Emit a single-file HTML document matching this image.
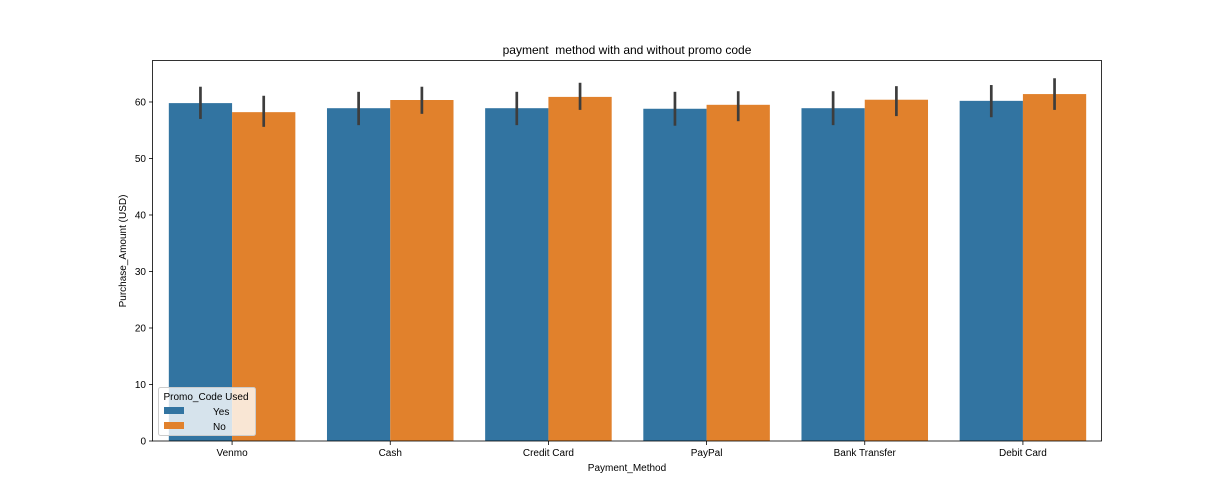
<!DOCTYPE html>
<html><head><meta charset="utf-8"><style>
html,body{margin:0;padding:0;background:#fff;}
svg{display:block;font-family:"Liberation Sans","DejaVu Sans",sans-serif;}
</style></head><body>
<svg id="chart" width="1224" height="504">
<text x="627" y="54" text-anchor="middle" font-size="12" style="white-space:pre">payment  method with and without promo code</text>
<g id="bars"></g>
<g id="axes"></g>
<rect x="152.5" y="60.5" width="949" height="380.5" fill="none" stroke="#000" stroke-width="0.8"/>
<text x="627" y="471" text-anchor="middle" font-size="10">Payment_Method</text>
<text transform="translate(126,251) rotate(-90)" text-anchor="middle" font-size="10">Purchase_Amount (USD)</text>
<g>
<rect x="158.5" y="387.5" width="97" height="48" rx="2" fill="#fff" fill-opacity="0.8" stroke="#ccc"/>
<text x="206" y="400" text-anchor="middle" font-size="10">Promo_Code Used</text>
<rect x="164" y="407" width="20" height="7" fill="#3274a1"/>
<text x="213" y="415" font-size="10">Yes</text>
<rect x="164" y="422" width="20" height="7" fill="#e1812c"/>
<text x="213" y="430" font-size="10">No</text>
</g>
</svg>
<script>
const categories=["Venmo","Cash","Credit Card","PayPal","Bank Transfer","Debit Card"];
const yesValues=[59.8,58.9,58.9,58.8,58.9,60.2];
const noValues=[58.2,60.35,60.9,59.5,60.4,61.4];
const yesLow=[57.0,55.9,55.9,55.8,55.9,57.3];
const yesHigh=[62.7,61.8,61.8,61.8,61.9,63.0];
const noLow=[55.6,57.9,58.6,56.6,57.5,58.6];
const noHigh=[61.1,62.7,63.4,61.9,62.8,64.2];
const yTicks=[0,10,20,30,40,50,60];

const X0=153,W=949,Y0=441,YTOP=60,YMAX=67.43;
const ns="http://www.w3.org/2000/svg";
function y(v){return Y0-(v/YMAX)*(Y0-YTOP);}
const band=W/categories.length;
function xc(i){return X0+band*(i+0.5);}
function mk(tag,attrs,parent){const e=document.createElementNS(ns,tag);for(const k in attrs)e.setAttribute(k,attrs[k]);parent.appendChild(e);return e;}
const bars=document.getElementById('bars'),axes=document.getElementById('axes');
const bw=band*0.4;
categories.forEach((c,i)=>{
  const series=[[yesValues,yesLow,yesHigh,"#3274a1","yes"],[noValues,noLow,noHigh,"#e1812c","no"]];
  series.forEach((s,j)=>{
    const x=xc(i)-bw+j*bw;
    const r=mk('rect',{x:x,y:y(s[0][i]),width:bw,height:Y0-y(s[0][i]),fill:s[3]},bars);
    
    
    const l=mk('line',{x1:x+bw/2,x2:x+bw/2,y1:y(s[1][i]),y2:y(s[2][i]),stroke:"#3d3d3d","stroke-width":2.7},bars);
    
    
  });
  mk('line',{x1:xc(i),x2:xc(i),y1:Y0,y2:Y0+4,stroke:"#000","stroke-width":0.8},axes);
  const t=mk('text',{x:xc(i),y:Y0+15,"text-anchor":"middle","font-size":10},axes);
  t.textContent=c;
  
  
});
yTicks.forEach(v=>{
  mk('line',{x1:X0-4,x2:X0,y1:y(v),y2:y(v),stroke:"#000","stroke-width":0.8},axes);
  const t=mk('text',{x:X0-7,y:y(v)+3.5,"text-anchor":"end","font-size":10},axes);
  t.textContent=v;
  
  
});
</script>
</body></html>
